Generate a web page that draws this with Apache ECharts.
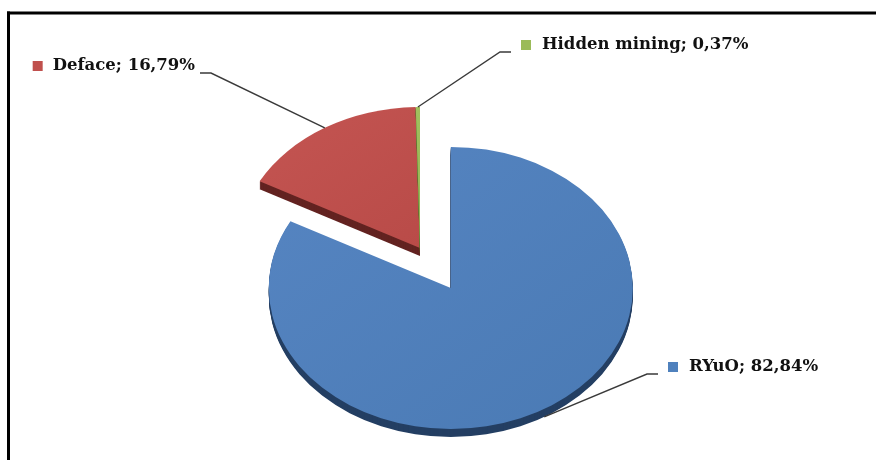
<!DOCTYPE html>
<html>
<head>
<meta charset="utf-8">
<script src="https://cdn.jsdelivr.net/npm/echarts@6/dist/echarts.min.js"></script>
<style>
html,body{margin:0;padding:0;background:#fff;}
#chart{width:876px;height:460px;}
</style>
</head>
<body>
<div id="chart"></div>
<script>
// ---- data ----
const categories = ['RYuO', 'Deface', 'Hidden mining'];
const shares = [82.84, 16.79, 0.37];

// ---- styling / layout (not data) ----
const TOP_COLORS = [['#5685c2', '#4a7ab4'], ['#c45552', '#b94b48'], ['#a0c05e', '#93b352']];
const MARKER_COLORS = ['#4F81BD', '#C0504D', '#9BBB59'];
const SIDE_COLORS = ['#243f63', '#632321', '#5b7331'];
const PIE = { cx: 420, cy: 248, rx: 182, k: 141 / 182, depth: 8 };
const EXPLODE = [60, 0, 0];
const LABEL_LAYOUT = [
  { ex: 647, ey: 374, dir: 1 },
  { ex: 211, ey: 73, dir: -1 },
  { ex: 500, ey: 52, dir: 1 }
];
const FONT = 'bold 16.5px "DejaVu Serif"';

const measureCtx = document.createElement('canvas').getContext('2d');
function textWidth(t) { measureCtx.font = FONT; return measureCtx.measureText(t).width; }
function fmtPct(v) { return v.toFixed(2).replace('.', ','); }

const total = shares.reduce((a, b) => a + b, 0);

function renderItem(params, api) {
  const i = params.dataIndex;
  const v = api.value(0);
  let start = 0;
  for (let j = 0; j < i; j++) start += shares[j];
  const a0 = start / total * 2 * Math.PI;
  const a1 = (start + v) / total * 2 * Math.PI;
  const mid = (a0 + a1) / 2;
  const ex = EXPLODE[i];
  const cx = PIE.cx + ex * Math.sin(mid);
  const cy = PIE.cy - ex * Math.cos(mid) * PIE.k;
  const sa = -Math.PI / 2 + a0, ea = -Math.PI / 2 + a1;
  const children = [];
  const sectorShape = { cx: 0, cy: 0, r0: 0, r: PIE.rx, startAngle: sa, endAngle: ea, clockwise: true };
  for (let d = PIE.depth; d >= 1; d--) {
    children.push({
      type: 'group', x: cx, y: cy + d, scaleY: PIE.k,
      children: [{ type: 'sector', shape: sectorShape, style: { fill: SIDE_COLORS[i], stroke: null } }]
    });
  }
  children.push({
    type: 'group', x: cx, y: cy, scaleY: PIE.k,
    children: [{
      type: 'sector', shape: sectorShape,
      style: {
        fill: new echarts.graphic.LinearGradient(0, 0, 1, 1, [
          { offset: 0, color: TOP_COLORS[i][0] }, { offset: 1, color: TOP_COLORS[i][1] }
        ]),
        stroke: null
      }
    }]
  });
  // leader line
  let px = cx + PIE.rx * Math.sin(mid);
  let py = cy - PIE.rx * PIE.k * Math.cos(mid);
  if (Math.cos(mid) < 0) py += PIE.depth;
  const L = LABEL_LAYOUT[i];
  const hx = L.ex + 11 * L.dir;
  children.push({
    type: 'polyline',
    shape: { points: [[px, py], [L.ex, L.ey], [hx, L.ey]] },
    style: { stroke: '#3a3a3a', lineWidth: 1.4, fill: null }
  });
  const label = categories[i] + '; ' + fmtPct(v) + '%';
  const w = textWidth(label);
  let markerX, textX;
  if (L.dir > 0) {
    markerX = hx + 10;
    textX = markerX + 21;
  } else {
    textX = hx - 5 - w;
    markerX = textX - 20;
  }
  children.push({
    type: 'rect',
    shape: { x: markerX, y: L.ey - 12, width: 10, height: 10 },
    style: { fill: MARKER_COLORS[i] }
  });
  children.push({
    type: 'text',
    style: {
      x: textX, y: L.ey - 7, text: label, font: FONT, fill: '#111111',
      textAlign: 'left', textVerticalAlign: 'middle', align: 'left', verticalAlign: 'middle'
    }
  });
  return { type: 'group', children: children };
}

const chart = echarts.init(document.getElementById('chart'), null, { renderer: 'canvas' });
chart.setOption({
  backgroundColor: '#ffffff',
  animation: false,
  graphic: [
    { type: 'line', shape: { x1: 7, y1: 13, x2: 876, y2: 13 }, style: { stroke: '#000', lineWidth: 3 } },
    { type: 'line', shape: { x1: 8.5, y1: 11.5, x2: 8.5, y2: 460 }, style: { stroke: '#000', lineWidth: 3 } }
  ],
  series: [{
    type: 'custom',
    coordinateSystem: 'none',
    renderItem: renderItem,
    data: shares.map((v, i) => ({ name: categories[i], value: [v] }))
  }]
});
</script>
</body>
</html>
